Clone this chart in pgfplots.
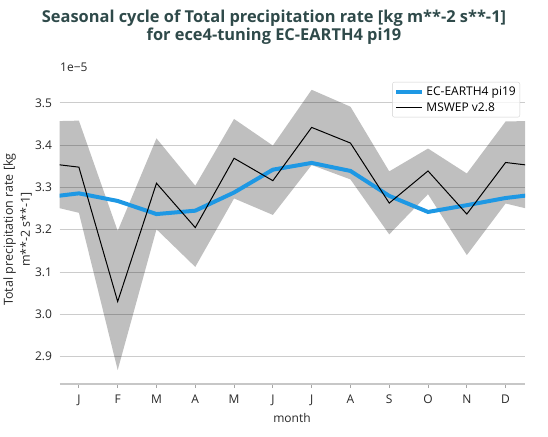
\documentclass[border=0pt]{standalone}
\usepackage{fontspec}
\setmainfont{Open Sans}
\usepackage{pgfplots}
\pgfplotsset{compat=1.18}
\usepgfplotslibrary{fillbetween}
\definecolor{ecblue}{RGB}{30,152,228}
\definecolor{titlecol}{RGB}{47,74,74}
\definecolor{txt}{RGB}{40,40,40}
\begin{document}
\begin{tikzpicture}[x=1pt,y=1pt]
\begin{axis}[
  at={(59.5pt,52pt)}, anchor=south west,
  scale only axis, width=465.5pt, height=309pt,
  xmin=0.5, xmax=12.5, ymin=2.835, ymax=3.566,
  xtick={1,2,3,4,5,6,7,8,9,10,11,12},
  xticklabels={J,F,M,A,M,J,J,A,S,O,N,D},
  ytick={2.9,3.0,3.1,3.2,3.3,3.4,3.5},
  /pgf/number format/assume math mode=true,
  yticklabel style={/pgf/number format/.cd,fixed,fixed zerofill,precision=1},
  tick label style={font=\fontsize{12}{14}\selectfont, text=txt},
  axis x line*=bottom, axis y line*=left,
  x axis line style={draw=black!22, line width=1.2pt, -},
  y axis line style={draw=none},
  xtick style={draw=black!35, line width=0.8pt},
  ytick style={draw=none},
  tick align=outside,
  x tick label style={yshift=-3.5pt},
  major tick length=4pt,
  ymajorgrids,
  major grid style={draw=black!20, line width=0.9pt},
  legend cell align=left,
  legend style={at={(rel axis cs:1,1)}, anchor=north east, xshift=-5pt, yshift=-7pt,
    draw=black!18, rounded corners=2pt, fill=white, fill opacity=0.8, text opacity=1,
    font=\fontsize{12}{14}\selectfont, inner xsep=2pt, inner ysep=2.5pt, row sep=1.5pt},
  legend image code/.code={\draw[#1] (0pt,0pt) -- (26pt,0pt);},
]
\addplot[draw=none, name path=up, forget plot] coordinates {
(0,3.456) (1,3.458) (2,3.197) (3,3.416) (4,3.304) (5,3.462) (6,3.399)
(7,3.531) (8,3.491) (9,3.338) (10,3.392) (11,3.333) (12,3.456) (13,3.458)};
\addplot[draw=none, name path=lo, forget plot] coordinates {
(0,3.262) (1,3.240) (2,2.868) (3,3.201) (4,3.112) (5,3.274) (6,3.235)
(7,3.353) (8,3.319) (9,3.189) (10,3.284) (11,3.140) (12,3.262) (13,3.240)};
\addplot[fill=black, fill opacity=0.25, draw=none, forget plot] fill between[of=up and lo];
\addplot[ecblue, line width=4pt] coordinates {
(0,3.275) (1,3.286) (2,3.268) (3,3.237) (4,3.245) (5,3.288) (6,3.342)
(7,3.358) (8,3.339) (9,3.280) (10,3.242) (11,3.258) (12,3.275) (13,3.286)};
\addlegendentry{EC-EARTH4 pi19}
\addplot[black, line width=1pt] coordinates {
(0,3.359) (1,3.348) (2,3.030) (3,3.310) (4,3.205) (5,3.369) (6,3.316)
(7,3.442) (8,3.405) (9,3.263) (10,3.339) (11,3.237) (12,3.359) (13,3.348)};
\addlegendentry{MSWEP v2.8}
\end{axis}
\node[font=\fontsize{16.4}{18.5}\selectfont\bfseries, text=titlecol, align=center] at (274,409)
  {Seasonal cycle of Total precipitation rate [kg m**-2 s**-1]\\for ece4-tuning EC-EARTH4 pi19};
\node[font=\fontsize{12}{14}\selectfont, text=txt, anchor=west, inner sep=0] at (60,369) {1e−5};
\node[font=\fontsize{12}{14}\selectfont, text=txt] at (292,18) {month};
\node[font=\fontsize{12.5}{17}\selectfont, text=txt, rotate=90, align=center] at (17.5,206.5)
  {Total precipitation rate [kg\\m**-2 s**-1]};
\pgfresetboundingbox
\path[use as bounding box] (0,0) rectangle (548,436);
\end{tikzpicture}
\end{document}
